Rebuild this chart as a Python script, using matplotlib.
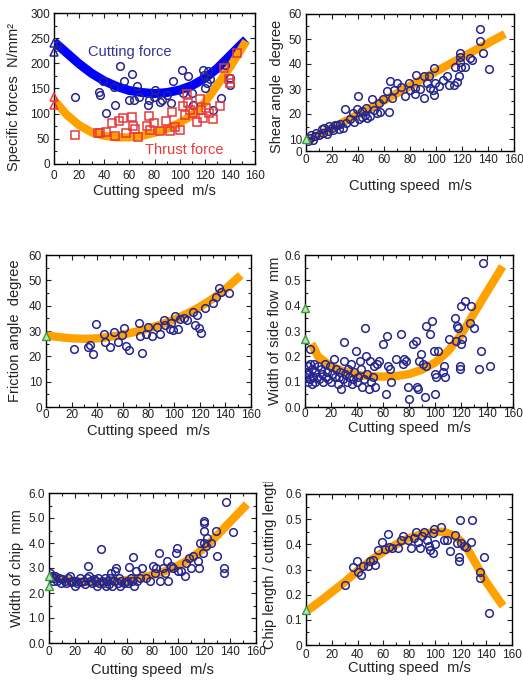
import numpy as np
import matplotlib
matplotlib.use('Agg')
import matplotlib.pyplot as plt
from matplotlib.ticker import MultipleLocator, FixedLocator
from matplotlib.transforms import Bbox

plt.rcParams['font.family'] = ['Liberation Sans', 'DejaVu Sans']

# ---- panel 1: specific forces ----
cut_x = [0, 0, 2, 17, 35.6, 36.4, 39, 41.7, 47.5, 48.8, 52.8, 55.9, 59.4, 62, 63.3, 66, 67.3,
         75, 76, 80.5, 79.7, 84, 85.8, 89.7, 92.9, 95, 101.6, 103, 106.9, 109.5, 110.8,
         118.7, 119.3, 120, 122, 122.7, 124, 126.6, 133, 135.9, 139.8, 139.8]
cut_y = [241, 223, 236, 134, 144, 137, 164, 102, 153, 117, 195, 164, 127, 179, 127, 154, 134,
         117, 127, 147, 134, 124, 127, 137, 121, 164, 187, 141, 174, 141, 117,
         187, 177, 151, 160, 184, 169, 107, 131, 196, 157, 170]
thr_x = [0, 0, 17, 35, 37, 41, 46, 48.8, 51.5, 54.9, 57.5, 62, 62.8, 64.6, 66.5, 73.9, 76,
         76.5, 79.7, 84, 89, 92, 93.7, 96.3, 100, 102.4, 104, 106, 107, 108, 110.8, 113.5,
         116, 117, 119, 121, 123.5, 126.6, 132.5, 135, 139, 139.8, 146]
thr_y = [133, 117, 57, 62, 62, 64, 82, 56, 86, 91, 62, 94, 76, 69, 54, 76, 96,
         68, 81, 66, 86, 66, 104, 74, 68, 115, 98, 139, 121, 108, 101, 84,
         129, 108, 91, 111, 101, 89, 115, 190, 168, 161, 220]
cut_fit_x = [0, 10, 20, 30, 40, 50, 60, 70, 80, 90, 100, 110, 120, 130, 140, 150, 153]
cut_fit_y = [243, 221, 199, 180, 165, 154, 146, 142, 140, 142, 147, 156, 170, 190, 215, 240, 247]
thr_fit_x = [0, 10, 20, 30, 40, 50, 60, 70, 80, 90, 100, 110, 120, 130, 140, 150, 153]
thr_fit_y = [127, 98, 77, 63, 56, 53, 53, 56, 62, 70, 82, 97, 122, 157, 192, 232, 244]

# ---- panel 2: shear angle ----
sh_x = [1.8, 3, 4, 5, 6.9, 8, 10, 12, 13, 14, 15.9, 17.2, 18, 19.8, 21, 22, 23.6, 25, 26.2,
        28.8, 30, 31, 33.9, 35.9, 37, 39, 39.8, 41, 43, 43, 45, 46, 47, 49.4, 50.6, 52,
        54.5, 55.8, 57, 59.6, 62.2, 63.5, 64.8, 66, 67.6, 70, 73.3, 76, 79, 80.2, 83.5, 84.6,
        84, 87.9, 90.7, 91, 93, 94.3, 95.6, 97.7, 98.2, 98.7, 99.5, 102, 105, 108.5, 110,
        113.6, 114.4, 116, 117.5, 118.8, 118.8, 118.8, 119.5, 122.6, 126.5, 128, 134, 134,
        136, 140.6]
sh_y = [9.3, 10.3, 11.5, 9.8, 11.3, 12.5, 11.8, 13.9, 12.5, 14.5, 12, 13.3, 15.2, 14.6, 13.8,
        15.5, 15.5, 14.2, 15.9, 14.6, 21.8, 16.5, 17.9, 20.5, 16.8, 21.8, 27.1, 18, 21.2,
        18.6, 19.5, 22.5, 18.3, 19.2, 26, 21.5, 20.5, 24.5, 21, 25.8, 29.3, 20.8, 33, 26.5,
        29.7, 32.4, 30.8, 27, 32.4, 29.7, 30.4, 35.7, 27.8, 30, 26.4, 35, 32.4, 35.3, 30.4,
        29.7, 27.5, 38.3, 32.4, 31, 33.7, 35, 31.5, 31.7, 38.9, 32.8, 35.3, 44.2, 42.6, 40.9,
        38.9, 38.9, 42.2, 41.5, 53.8, 49.2, 44.2, 37.9]
sh_fit_x = [2, 50, 100, 153]
sh_fit_y = [9.5, 22.5, 37, 52]

# ---- panel 3: friction angle ----
fr_x = [21.6, 32.5, 34.6, 36.5, 39.3, 45, 46.4, 50.3, 53.4, 56, 59.4, 60.7, 62.8, 64.6, 72.4,
        73.7, 75, 78, 79.4, 82.8, 86.7, 89.3, 92.4, 93.2, 96.6, 97.6, 99.2, 101, 102.9, 104.4,
        107.5, 110, 114.8, 116, 118, 119.3, 120.6, 124, 130.5, 133, 135, 136.2, 142.7]
fr_y = [22.8, 23.5, 24.4, 20.8, 32.7, 28.8, 25.7, 23.7, 29.7, 25.5, 28.6, 31.3, 24, 22.4, 33,
        28, 21.4, 29, 31.4, 28, 31.7, 29, 34.3, 32.3, 30.6, 33, 30.3, 35.9, 30.6, 34.6,
        35, 34.3, 37.6, 32.3, 36.3, 31, 29.3, 39, 41, 43.5, 46.8, 45.5, 45]
fr_fit_x = [0, 10, 20, 30, 40, 50, 60, 70, 80, 90, 100, 110, 120, 130, 140, 152]
fr_fit_y = [28.3, 27.6, 27.1, 26.9, 27.1, 27.7, 28.6, 29.7, 31, 32.6, 34.5, 36.8, 39.5, 42.7, 46.5, 52]

# ---- panel 4: width of side flow ----
sf_x = [1, 1, 2, 2, 3, 3.9, 4, 4, 5, 5, 6, 7, 8, 8, 9, 10, 11, 12, 13, 14, 15, 16, 17, 18,
        19, 20, 21, 22, 23, 24, 25, 26, 27, 28, 29, 30, 30, 31, 32, 33, 34, 35, 36, 37, 38,
        39, 40, 41, 42, 43, 44, 45, 46, 47, 48, 49, 50, 51, 52, 53, 54, 55, 57, 60, 62, 63,
        64, 65, 66, 70, 74, 75, 76, 78, 79, 80, 83, 85, 86, 87, 88, 89, 91, 92, 93, 93, 96,
        98, 99, 100, 100, 101, 102, 106, 107, 108, 111, 115, 116, 117, 118, 119, 119, 120,
        120, 121, 123, 127, 128, 130, 134, 135, 137, 142]
sf_y = [0.12, 0.14, 0.1, 0.16, 0.13, 0.23, 0.11, 0.17, 0.09, 0.15, 0.12, 0.17, 0.1, 0.14,
        0.12, 0.16, 0.11, 0.15, 0.13, 0.1, 0.17, 0.12, 0.14, 0.11, 0.16, 0.1, 0.13, 0.19,
        0.12, 0.15, 0.09, 0.12, 0.14, 0.07, 0.11, 0.255, 0.18, 0.13, 0.1, 0.15, 0.12, 0.17,
        0.09, 0.11, 0.14, 0.22, 0.1, 0.12, 0.18, 0.15, 0.08, 0.11, 0.31, 0.2, 0.13, 0.07,
        0.18, 0.1, 0.12, 0.16, 0.08, 0.17, 0.18, 0.25, 0.05, 0.28, 0.16, 0.15, 0.1, 0.19,
        0.29, 0.17, 0.19, 0.18, 0.08, 0.03, 0.25, 0.26, 0.08, 0.07, 0.18, 0.21, 0.17, 0.04,
        0.32, 0.16, 0.29, 0.34, 0.22, 0.05, 0.13, 0.12, 0.22, 0.14, 0.16, 0.12, 0.27, 0.35,
        0.26, 0.32, 0.31, 0.16, 0.15, 0.4, 0.25, 0.27, 0.42, 0.33, 0.4, 0.31, 0.15, 0.22,
        0.57, 0.16]
sf_fit_x = [5, 10, 20, 30, 40, 50, 60, 70, 80, 90, 100, 110, 120, 130, 140, 152]
sf_fit_y = [0.25, 0.2, 0.16, 0.14, 0.127, 0.121, 0.12, 0.122, 0.13, 0.147, 0.175, 0.22, 0.285,
            0.37, 0.455, 0.555]

# ---- panel 5: width of chip ----
wc_x = [1, 1, 2, 3, 4, 5, 6, 8, 9, 10, 12, 13, 15, 16, 17, 18, 20, 21, 22, 24, 25, 27, 28,
        29, 30, 31, 32, 33, 35, 36, 37, 38, 39, 40, 41, 42, 43, 44, 45, 46, 47, 48, 49, 50,
        51, 52, 53, 54, 55, 56, 58, 60, 61, 62, 63, 64, 65, 66, 67, 68, 70, 72, 75, 78, 80,
        82, 83, 85, 86, 88, 90, 91, 92, 94, 96, 98, 99, 100, 102, 105, 106, 108, 110, 111,
        115, 116, 117, 119, 120, 120, 120, 120, 121, 122, 125, 129, 130, 135, 135, 137, 142]
wc_y = [2.8, 2.6, 2.7, 2.5, 2.6, 2.7, 2.5, 2.6, 2.4, 2.55, 2.5, 2.4, 2.6, 2.7, 2.45, 2.5,
        2.3, 2.5, 2.4, 2.6, 2.45, 2.5, 2.35, 2.6, 3.1, 2.7, 2.5, 2.4, 2.55, 2.5, 2.3, 2.6,
        2.4, 3.75, 2.5, 2.4, 2.6, 2.3, 2.5, 2.35, 2.6, 2.8, 2.3, 2.5, 2.9, 3.0, 2.4, 2.6,
        2.3, 2.5, 2.4, 2.5, 2.4, 3.05, 2.6, 2.5, 3.45, 2.3, 2.9, 2.5, 2.6, 3.0, 2.6, 2.5,
        3.1, 2.8, 3.0, 3.6, 2.5, 3.0, 2.8, 3.3, 2.5, 3.1, 3.0, 3.6, 3.8, 2.9, 2.9, 2.7, 3.2,
        3.4, 3.0, 3.5, 3.3, 3.0, 4.0, 3.6, 4.9, 4.8, 4.5, 4.0, 3.9, 4.2, 4.0, 4.5, 3.5, 3.0,
        2.8, 5.65, 4.45]
wc_fit_x = [0, 10, 20, 30, 40, 50, 60, 70, 80, 90, 100, 110, 120, 130, 140, 153]
wc_fit_y = [2.7, 2.55, 2.47, 2.43, 2.43, 2.46, 2.52, 2.6, 2.72, 2.88, 3.1, 3.4, 3.8, 4.3, 4.85, 5.55]

# ---- panel 6: chip length ratio ----
cl_x = [30.3, 36.8, 39.4, 40.7, 42.8, 44.6, 48.5, 49.8, 52.4, 53.7, 55.8, 58.9, 61.4, 63.5,
        64.5, 66.6, 71.8, 73.9, 75.7, 79.6, 81.7, 83.5, 85.3, 86.9, 88.7, 90, 92, 93.9, 95.2,
        96.5, 98.3, 99, 99.8, 100.4, 105, 106.8, 109.4, 112, 115.9, 117.2, 118.5, 119, 119.8,
        120.6, 122.4, 124.2, 128.9, 128.4, 135.4, 135.4, 138, 141.9]
cl_y = [0.239, 0.309, 0.335, 0.292, 0.279, 0.315, 0.312, 0.335, 0.339, 0.319, 0.376, 0.408,
        0.381, 0.442, 0.388, 0.385, 0.385, 0.418, 0.434, 0.418, 0.385, 0.425, 0.448, 0.408,
        0.385, 0.432, 0.448, 0.416, 0.392, 0.376, 0.365, 0.445, 0.461, 0.402, 0.469, 0.418,
        0.418, 0.372, 0.438, 0.405, 0.349, 0.332, 0.498, 0.405, 0.392, 0.389, 0.498, 0.408,
        0.292, 0.266, 0.349, 0.129]
cl_fit_x = [2, 10, 20, 30, 40, 50, 60, 70, 80, 90, 100, 107, 115, 120, 125, 130, 140, 153]
cl_fit_y = [0.14, 0.17, 0.21, 0.25, 0.295, 0.335, 0.37, 0.4, 0.425, 0.44, 0.45, 0.45, 0.435,
            0.415, 0.385, 0.34, 0.25, 0.155]

# green triangles at zero speed
g2_y = [10]
g3_y = [28]
g4_y = [0.39, 0.27]
g5_y = [2.7, 2.3]
g6_y = [0.14]

W, H = 523, 683
fig = plt.figure(figsize=(W / 100, H / 100), dpi=100)

NAVY = '#25258f'
ORANGE = '#ffa200'


def box(l, t, r, b):
    return fig.add_axes([l / W, (H - b) / H, (r - l) / W, (b - t) / H])


def style(ax, ylabel, ylab_x, ylab_y, xlab_y, xpad, ymin, ymax, ymaj, ymin_tick, yfmt):
    ax.set_xlim(0, 160)
    ax.set_ylim(ymin, ymax)
    ax.xaxis.set_major_locator(MultipleLocator(20))
    ax.xaxis.set_minor_locator(MultipleLocator(10))
    ax.yaxis.set_major_locator(MultipleLocator(ymaj))
    ax.yaxis.set_minor_locator(MultipleLocator(ymin_tick))
    ax.yaxis.set_major_formatter(plt.FuncFormatter(lambda v, p: yfmt(v)))
    ax.tick_params(which='both', direction='in', top=True, right=True, labelsize=8.5,
                   colors='#222222')
    ax.tick_params(axis='y', pad=3)
    ax.tick_params(axis='x', pad=xpad)
    ax.tick_params(which='major', length=3.5, width=0.8)
    ax.tick_params(which='minor', length=2, width=0.8)
    for s in ax.spines.values():
        s.set_linewidth(1)
    ax.set_xlabel('Cutting speed  m/s', fontsize=10.5, color='#222222')
    ax.set_ylabel(ylabel, fontsize=10.5, color='#222222')
    ax.yaxis.label.set_verticalalignment('center')
    bb = ax.get_position()
    ax.yaxis.set_label_coords(ylab_x / W, (H - ylab_y) / H, transform=fig.transFigure)
    ax.xaxis.set_label_coords((bb.x0 + bb.x1) / 2, (H - xlab_y) / H, transform=fig.transFigure)
    ax.xaxis.label.set_verticalalignment('center')


def scatter(ax, x, y):
    ax.plot(x, y, 'o', mfc='none', mec=NAVY, mew=1.1, ms=5.5, zorder=3)


def green(ax, y):
    ax.plot(np.zeros(len(y)), y, '^', mfc='#b8e6b0', mec='#3a9a3a', mew=1, ms=6,
            zorder=4, clip_on=False)


fmt_int = lambda v: '%d' % round(v)
fmt_1 = lambda v: '%.1f' % v

# panel 1
ax1 = box(54, 13, 255, 164)
ax1.plot(cut_fit_x, cut_fit_y, color='#0000ff', lw=6.5, solid_capstyle='butt', zorder=2)
ax1.plot(thr_fit_x, thr_fit_y, color=ORANGE, lw=6, solid_capstyle='butt', zorder=2)
ax1.plot(cut_x[3:], cut_y[3:], 'o', mfc='none', mec=NAVY, mew=1.1, ms=5.5, zorder=3)
ax1.plot(cut_x[:2], cut_y[:2], '^', mfc='none', mec=NAVY, mew=1.1, ms=6, zorder=3, clip_on=False)
ax1.plot(cut_x[2:3], cut_y[2:3], 'o', mfc='none', mec=NAVY, mew=1.1, ms=5.5, zorder=3)
ax1.plot(thr_x[2:], thr_y[2:], 's', mfc='none', mec='#e8383a', mew=1.1, ms=5.5, zorder=3)
ax1.plot(thr_x[:2], thr_y[:2], '^', mfc='none', mec='#e8383a', mew=1.1, ms=6, zorder=3,
         clip_on=False)
ax1.text(60, 222, 'Cutting force', color='#33339a', fontsize=10.5, ha='center', va='center')
ax1.text(104, 28, 'Thrust force', color='#e83a3a', fontsize=10.5, ha='center', va='center')
style(ax1, 'Specific forces  N/mm\u00b2', 14, 97, 191, 4, 0, 300, 50, 25, fmt_int)

# panel 2 (bottom of the axis is squeezed: "0" sits just below 10)
ax2 = box(306, 14, 514, 151)
ax2.plot(sh_fit_x, sh_fit_y, color=ORANGE, lw=6, solid_capstyle='butt', zorder=2)
scatter(ax2, sh_x, sh_y)
green(ax2, g2_y)
style(ax2, 'Shear angle  degree', 277, 86, 186, 2, 5.2, 60, 10, 5, fmt_int)
ax2.yaxis.set_major_locator(FixedLocator([5.2, 10, 20, 30, 40, 50, 60]))
ax2.yaxis.set_major_formatter(plt.FixedFormatter(['0', '10', '20', '30', '40', '50', '60']))
ax2.yaxis.set_minor_locator(FixedLocator([15, 25, 35, 45, 55]))

# panel 3
ax3 = box(46, 255, 251, 407)
ax3.plot(fr_fit_x, fr_fit_y, color=ORANGE, lw=6, solid_capstyle='butt', zorder=2)
scatter(ax3, fr_x, fr_y)
green(ax3, g3_y)
style(ax3, 'Friction angle  degree', 15, 331, 431, 1.5, 0, 60, 10, 5, fmt_int)

# panel 4
ax4 = box(305, 255, 513, 407)
ax4.plot(sf_fit_x, sf_fit_y, color=ORANGE, lw=6, solid_capstyle='butt', zorder=2)
scatter(ax4, sf_x, sf_y)
green(ax4, g4_y)
style(ax4, 'Width of side flow  mm', 275, 331, 428, 0.5, 0, 0.6, 0.1, 0.05, fmt_1)

# panel 5
ax5 = box(49, 493, 256, 643)
ax5.plot(wc_fit_x, wc_fit_y, color=ORANGE, lw=6, solid_capstyle='butt', zorder=2)
scatter(ax5, wc_x, wc_y)
green(ax5, g5_y)
style(ax5, 'Width of chip  mm', 17, 568, 670, 2.5, 0, 6, 1, 0.5, fmt_1)

# panel 6
ax6 = box(306, 494, 512, 645)
ax6.plot(cl_fit_x, cl_fit_y, color=ORANGE, lw=6, solid_capstyle='butt', zorder=2)
scatter(ax6, cl_x, cl_y)
green(ax6, g6_y)
style(ax6, 'Chip length / cutting length', 270, 562, 668, 3, 0, 0.6, 0.1, 0.05,
      lambda v: '0' if abs(v) < 1e-9 else '%.1f' % v)
lab = ax6.yaxis.label
lab.set_clip_box(Bbox([[0, 0], [W, H - 482]]))
lab.set_clip_on(True)

fig.savefig('out.png', dpi=100)
